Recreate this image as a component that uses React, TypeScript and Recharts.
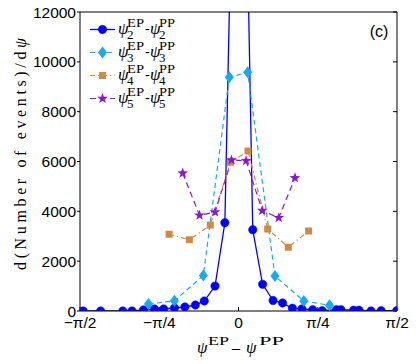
import React from "react";
import { LineChart, Line, XAxis, YAxis, Legend } from "recharts";

// x values are in units of pi, counts are the distribution values
const psi2X = [
  -0.49, -0.435, -0.365, -0.336, -0.3, -0.265, -0.236, -0.202, -0.169, -0.136,
  -0.108, -0.074, -0.043, -0.024, 0.027, 0.045, 0.076, 0.109, 0.139, 0.17, 0.2,
  0.234, 0.264, 0.309, 0.323, 0.363, 0.38, 0.418, 0.45, 0.499,
];
const psi2Y = [
  0, 0, 0, 0, 40, 80, 80, 120, 160, 240, 400, 1000, 3540, 15000, 15500, 3260,
  1070, 420, 320, 110, 80, 50, 10, 50, 50, 30, 30, 0, 10, 10,
];

const psi3X = [-0.284, -0.202, -0.111, -0.029, 0.029, 0.115, 0.206, 0.287];
const psi3Y = [280, 410, 1420, 9380, 9580, 1400, 400, 230];

const psi4X = [-0.219, -0.155, -0.089, -0.025, 0.03, 0.092, 0.157, 0.221];
const psi4Y = [3080, 2860, 3450, 5970, 6420, 3290, 2560, 3210];

const psi5X = [-0.176, -0.123, -0.074, -0.022, 0.024, 0.075, 0.127, 0.178];
const psi5Y = [5530, 3840, 3970, 6060, 6030, 4030, 3740, 5340];

const xTicks = [-0.5, -0.25, 0, 0.25, 0.5];
const xTickLabels = ["−π/2", "−π/4", "0", "π/4", "π/2"];
const yTicks = [0, 2000, 4000, 6000, 8000, 10000, 12000];

const toRows = (xs: number[], ys: number[]) => xs.map((x, i) => ({ x, y: ys[i] }));

const SANS = "'Liberation Sans', Arial, sans-serif";
const SERIF = "'Liberation Serif', 'Times New Roman', serif";

const series = [
  { n: 2, color: "#0000ff", width: 1.3, dash: undefined, shape: "circle", rows: toRows(psi2X, psi2Y) },
  { n: 3, color: "#17a9f2", width: 1.2, dash: "5 3.5", shape: "diamond", rows: toRows(psi3X, psi3Y) },
  { n: 4, color: "#d08a48", width: 1.2, dash: "5 3 1.2 3", shape: "square", rows: toRows(psi4X, psi4Y) },
  { n: 5, color: "#8a18cf", width: 1.2, dash: "6 4", shape: "star", rows: toRows(psi5X, psi5Y) },
];

const starPath = (cx: number, cy: number, R: number, r: number) => {
  let d = "";
  for (let k = 0; k < 10; k++) {
    const a = -Math.PI / 2 + (k * Math.PI) / 5;
    const rad = k % 2 === 0 ? R : r;
    d += (k === 0 ? "M" : "L") + (cx + rad * Math.cos(a)).toFixed(2) + "," + (cy + rad * Math.sin(a)).toFixed(2);
  }
  return d + "Z";
};

const Marker = ({ shape, cx, cy, color }: { shape: string; cx: number; cy: number; color: string }) => {
  if (shape === "circle") return <circle cx={cx} cy={cy} r={4.2} fill={color} stroke={color} strokeWidth={0.5} />;
  if (shape === "diamond")
    return <path d={`M${cx},${cy - 6}L${cx + 4.5},${cy}L${cx},${cy + 6}L${cx - 4.5},${cy}Z`} fill={color} />;
  if (shape === "square") return <rect x={cx - 3.5} y={cy - 3.5} width={7} height={7} fill={color} />;
  return <path d={starPath(cx, cy, 5.6, 2.3)} fill={color} />;
};

const PsiDiff = ({ x, y, n }: { x: number; y: number; n: number }) => (
  <g fontFamily={SERIF} fill="#000">
    <text x={x} y={y + 4.5} fontSize={17} fontStyle="italic">ψ</text>
    <text x={x + 9} y={y - 3} fontSize={12} textLength={17} lengthAdjust="spacingAndGlyphs">EP</text>
    <text x={x + 9} y={y + 9.5} fontSize={13}>{n}</text>
    <text x={x + 27} y={y + 3} fontSize={14}>-</text>
    <text x={x + 32} y={y + 4.5} fontSize={17} fontStyle="italic">ψ</text>
    <text x={x + 41} y={y - 3} fontSize={12} textLength={16} lengthAdjust="spacingAndGlyphs">PP</text>
    <text x={x + 41} y={y + 9.5} fontSize={13}>{n}</text>
  </g>
);

const LegendBox = () => (
  <svg width={200} height={115} style={{ display: "block" }}>
    {series.map((s, i) => {
      const cy = 29.5 + 23 * i;
      return (
        <g key={s.n}>
          <line x1={90} x2={115} y1={cy} y2={cy} stroke={s.color} strokeWidth={s.width} strokeDasharray={s.dash} />
          <Marker shape={s.shape} cx={102.5} cy={cy} color={s.color} />
          <PsiDiff x={118} y={cy} n={s.n} />
        </g>
      );
    })}
  </svg>
);

const XLabel = () => (
  <g fontFamily={SERIF} fill="#000">
    <text x={197} y={353} fontSize={17} fontStyle="italic">ψ</text>
    <text x={208} y={345} fontSize={12} textLength={21} lengthAdjust="spacingAndGlyphs">EP</text>
    <text x={232} y={348} fontSize={16}>_</text>
    <text x={246} y={353} fontSize={17} fontStyle="italic">ψ</text>
    <text x={259} y={345} fontSize={12} textLength={25} lengthAdjust="spacingAndGlyphs">PP</text>
  </g>
);

const YLabel = () => (
  <text
    transform="translate(26,154) rotate(-90)"
    textAnchor="middle"
    fontFamily={SERIF}
    fontSize={16}
    fill="#000"
    textLength={232}
    lengthAdjust="spacing"
  >
    d(Number of events)/d<tspan fontStyle="italic">ψ</tspan>
  </text>
);

const PanelTag = () => (
  <text x={379} y={37} textAnchor="middle" fontFamily={SANS} fontSize={16} fill="#000">
    (c)
  </text>
);

const emptyTick = () => <g />;

export default function App() {
  return (
    <div style={{ position: "absolute", left: 0, top: 0, background: "#fff" }}>
      <LineChart width={416} height={364} margin={{ top: 0, right: 0, bottom: 0, left: 0 }}>
        <XAxis
          xAxisId="b"
          type="number"
          dataKey="x"
          orientation="bottom"
          domain={[-0.5, 0.5]}
          ticks={xTicks}
          allowDataOverflow
          tickFormatter={(v: number) => xTickLabels[xTicks.indexOf(v)]}
          height={53}
          tickSize={-4}
          tickMargin={10}
          stroke="#000"
          tick={{ fill: "#000", fontFamily: SANS, fontSize: 15.5 }}
          label={{ content: () => <XLabel /> }}
        />
        <XAxis
          xAxisId="t"
          type="number"
          orientation="top"
          domain={[-0.5, 0.5]}
          ticks={xTicks}
          allowDataOverflow
          height={12}
          tickSize={-4}
          stroke="#000"
          tick={emptyTick}
          label={{ content: () => <PanelTag /> }}
        />
        <YAxis
          yAxisId="l"
          type="number"
          orientation="left"
          domain={[0, 12000]}
          ticks={yTicks}
          allowDataOverflow
          width={80}
          tickSize={3}
          tickMargin={1}
          stroke="#000"
          tick={{ fill: "#000", fontFamily: SANS, fontSize: 15.5 }}
          label={{ content: () => <YLabel /> }}
        />
        <YAxis
          yAxisId="r"
          type="number"
          orientation="right"
          domain={[0, 12000]}
          ticks={yTicks}
          allowDataOverflow
          width={19}
          tickSize={-4}
          stroke="#000"
          tick={emptyTick}
        />
        {series.map((s) => (
          <Line
            key={s.n}
            xAxisId="b"
            yAxisId="l"
            data={s.rows}
            dataKey="y"
            type="linear"
            stroke={s.color}
            strokeWidth={s.width}
            strokeDasharray={s.dash}
            isAnimationActive={false}
            activeDot={false}
            dot={(p: any) => <Marker key={`${s.n}-${p.index}`} shape={s.shape} cx={p.cx} cy={p.cy} color={s.color} />}
          />
        ))}
        <Legend
          layout="vertical"
          align="center"
          verticalAlign="middle"
          wrapperStyle={{ left: 0, top: 0, width: 200, height: 115 }}
          content={() => <LegendBox />}
        />
      </LineChart>
    </div>
  );
}
